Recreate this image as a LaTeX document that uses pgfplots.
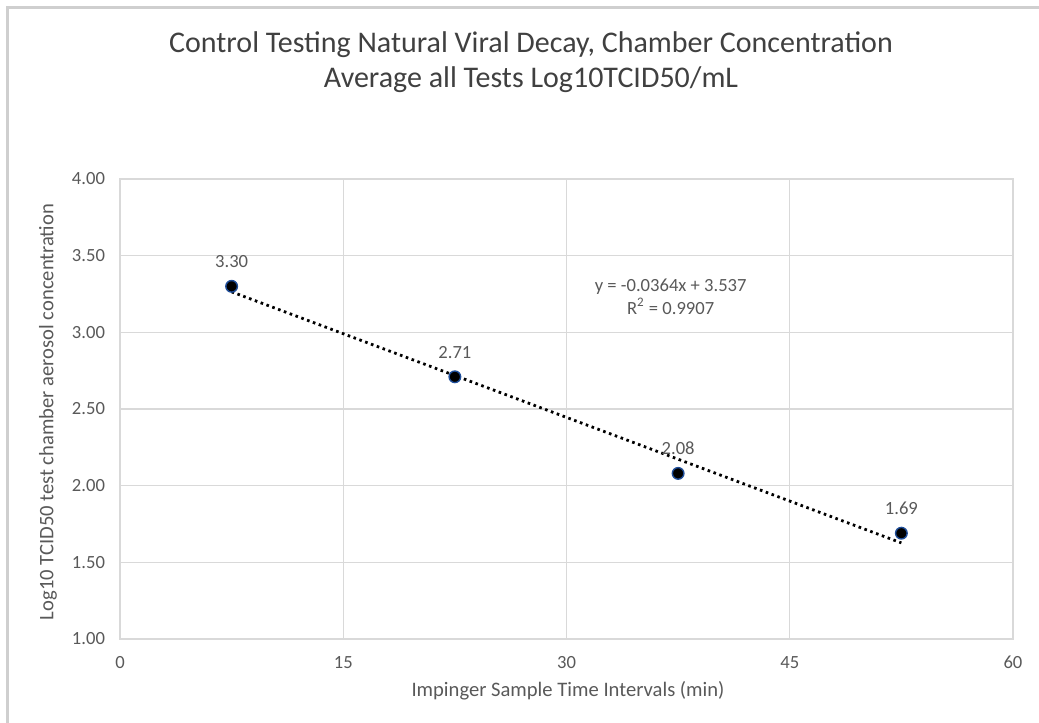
\documentclass[border=0pt]{standalone}
\usepackage{pgfplots}
\pgfplotsset{compat=1.18}
\usepackage{fontspec}
\setmainfont{Carlito}
\definecolor{txt}{HTML}{595959}
\definecolor{ttl}{HTML}{404040}
\definecolor{grd}{HTML}{D9D9D9}
\definecolor{frm}{HTML}{CFCFCF}
\definecolor{mkedge}{HTML}{1F4E9A}
\begin{document}
\begin{tikzpicture}[x=0.5pt,y=0.5pt]
\path[use as bounding box] (0,0) rectangle (1039,723);
\draw[frm, line width=1.5pt] (7,0) -- (7,715) -- (1039,715);
\node[ttl, font=\fontsize{15}{18}\selectfont] at (531,678) {Control Testing Natural Viral Decay, Chamber Concentration};
\node[ttl, font=\fontsize{15}{18}\selectfont] at (531,643) {Average all Tests Log10TCID50/mL};
\node[txt, font=\fontsize{10.3}{12}\selectfont] at (568,32) {Impinger Sample Time Intervals (min)};
\node[txt, font=\fontsize{10.3}{12}\selectfont, rotate=90] at (48,311) {Log10 TCID50 test chamber aerosol concentration};
\begin{axis}[
  at={(60pt,42pt)}, anchor=south west,
  scale only axis, width=446.5pt, height=230pt,
  xmin=0, xmax=60, ymin=1, ymax=4,
  xtick={0,15,30,45,60},
  ytick={1,1.5,2,2.5,3,3.5,4},
  grid=major,
  major grid style={grd, line width=0.6pt},
  axis line style={grd, line width=0.6pt},
  tick style={draw=none},
  ticklabel style={txt, font=\fontsize{9.3}{11}\selectfont},
  /pgf/number format/assume math mode=true,
  yticklabel style={/pgf/number format/fixed, /pgf/number format/fixed zerofill, /pgf/number format/precision=2, xshift=-4pt},
  xticklabel style={yshift=-5pt},
  clip=false,
]
\addplot[black, line width=1.4pt, dash pattern=on 1.3pt off 1.8pt] coordinates {(7.5,3.264) (52.5,1.6266)};
\addplot[only marks, mark=*, mark size=2.9pt, mark options={fill=black, draw=mkedge, line width=0.7pt},
  nodes near coords, point meta=explicit symbolic,
  every node near coord/.append style={txt, font=\fontsize{9.3}{11}\selectfont, yshift=5.5pt}]
  coordinates {(7.5,3.30)[3.30] (22.5,2.71)[2.71] (37.5,2.08)[2.08] (52.5,1.69)[1.69]};
\node[txt, font=\fontsize{9.3}{11.5}\selectfont, align=center] at (axis cs:37,3.235) {y = -0.0364x + 3.537\\R\textsuperscript{2} = 0.9907};
\end{axis}
\end{tikzpicture}
\end{document}
